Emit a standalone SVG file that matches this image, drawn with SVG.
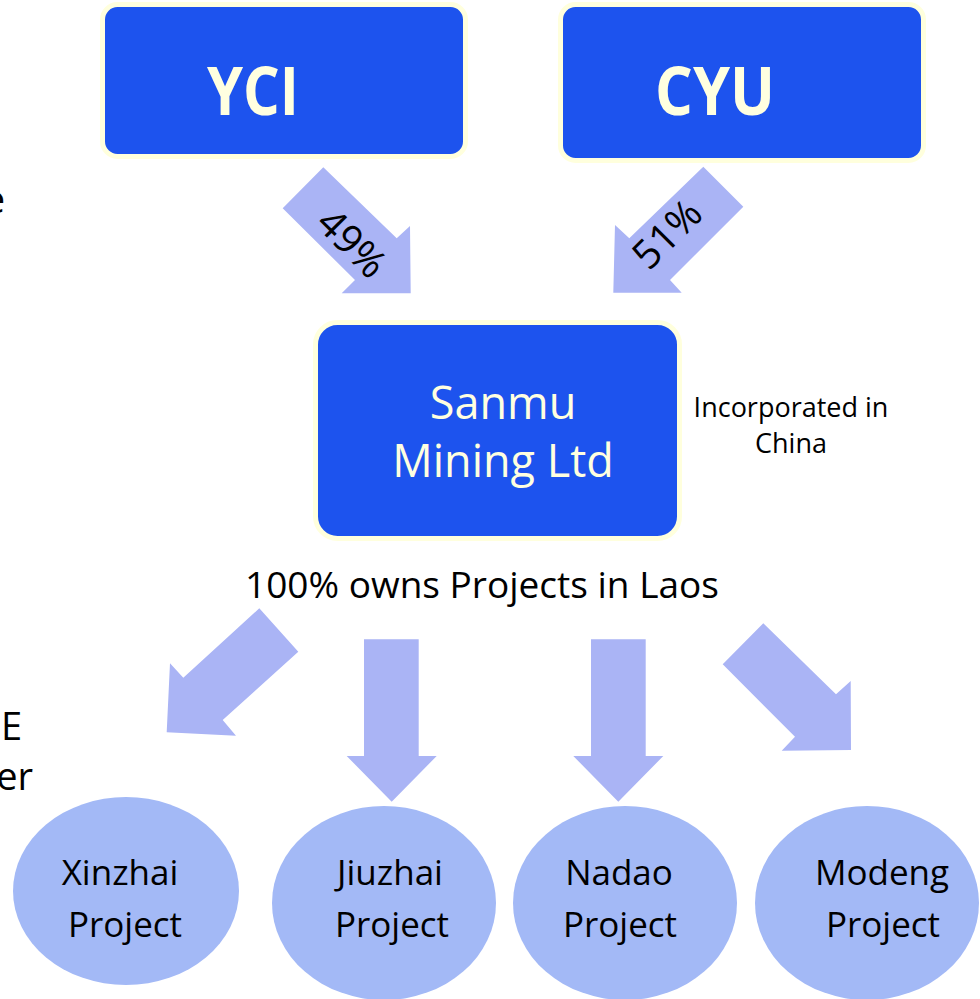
<svg xmlns="http://www.w3.org/2000/svg" width="980" height="999" viewBox="0 0 980 999">
<style>
.box{fill:#1d53ee;stroke:#ffffdd;stroke-width:5}
.arr{fill:#aab4f5}
.ell{fill:#a3b9f6}
.bt{font-family:"Open Sans","Noto Sans",sans-serif;font-weight:bold;fill:#ffffe0;text-anchor:middle}
.wt{font-family:"Open Sans","Noto Sans",sans-serif;fill:#ffffe0;text-anchor:middle;font-size:45px}
.kt{font-family:"Open Sans","Noto Sans",sans-serif;fill:#000;text-anchor:middle}
.edge{font-family:"Open Sans","Noto Sans",sans-serif;fill:#000;text-anchor:end;font-size:38px}
</style>
<rect width="980" height="999" fill="#fff"/>
<g id="edge-fragments">
<text class="edge" x="5" y="213">e</text>
<text class="edge" x="22" y="740">E</text>
<text class="edge" x="33" y="790">er</text>
</g>
<g id="connectors">
<polygon class="arr" points="323.3,167.3 396.7,238.3 410,226 410.7,293.3 341.7,293.3 355,280 282.7,208.3"/>
<text class="kt" font-size="40" transform="translate(352,243) rotate(45)" y="14">49%</text>
<polygon class="arr" points="703.3,166.7 743.3,206.7 670,280 681.7,292.7 613.3,292.7 615,225 629.3,238.3"/>
<text class="kt" font-size="40" transform="translate(667,234) rotate(-45)" y="14">51%</text>
<polygon class="arr" points="259.3,608.3 298.3,651.7 222.7,720 236,735.7 166.7,732.3 170,663.3 183.3,677.7"/>
<polygon class="arr" points="364,639.3 418.7,639.3 418.7,756 436.7,756 391.7,801.7 346.7,756 364,756"/>
<polygon class="arr" points="591,639.3 645.7,639.3 645.7,756 663.3,756 618.3,801.7 573.3,756 591,756"/>
<polygon class="arr" points="722.7,664.3 763.3,623.3 836,694.3 850.7,681 851,750 781.7,750.7 795,736.7"/>
</g>
<g id="YCI">
<rect class="box" x="102.5" y="4.5" width="363" height="152" rx="15"/>
<text class="bt" x="253" y="115" font-size="66" textLength="92" lengthAdjust="spacingAndGlyphs">YCI</text>
</g>
<g id="CYU">
<rect class="box" x="560.5" y="4.5" width="363" height="156" rx="15"/>
<text class="bt" x="715" y="115" font-size="66" textLength="120" lengthAdjust="spacingAndGlyphs">CYU</text>
</g>
<g id="Sanmu">
<rect class="box" x="315.5" y="322.5" width="364" height="216" rx="22"/>
<text class="wt" x="503" y="419">Sanmu</text>
<text class="wt" x="503" y="477">Mining Ltd</text>
</g>
<g id="note-incorporated">
<text class="kt" font-size="27" x="791" y="417">Incorporated in</text>
<text class="kt" font-size="27" x="791" y="453">China</text>
</g>
<g id="note-owns">
<text class="kt" font-size="37" x="482" y="598">100% owns Projects in Laos</text>
</g>
<g id="Xinzhai">
<ellipse class="ell" cx="126" cy="891" rx="113" ry="94"/>
<text class="kt" font-size="35" x="120" y="885">Xinzhai</text>
<text class="kt" font-size="35" x="125" y="937">Project</text>
</g>
<g id="Jiuzhai">
<ellipse class="ell" cx="384" cy="903" rx="112" ry="97"/>
<text class="kt" font-size="35" x="390" y="885">Jiuzhai</text>
<text class="kt" font-size="35" x="392" y="937">Project</text>
</g>
<g id="Nadao">
<ellipse class="ell" cx="625" cy="903" rx="112" ry="97"/>
<text class="kt" font-size="35" x="619" y="885">Nadao</text>
<text class="kt" font-size="35" x="620" y="937">Project</text>
</g>
<g id="Modeng">
<ellipse class="ell" cx="867" cy="903" rx="112" ry="97"/>
<text class="kt" font-size="35" x="882" y="885">Modeng</text>
<text class="kt" font-size="35" x="883" y="937">Project</text>
</g>
</svg>
